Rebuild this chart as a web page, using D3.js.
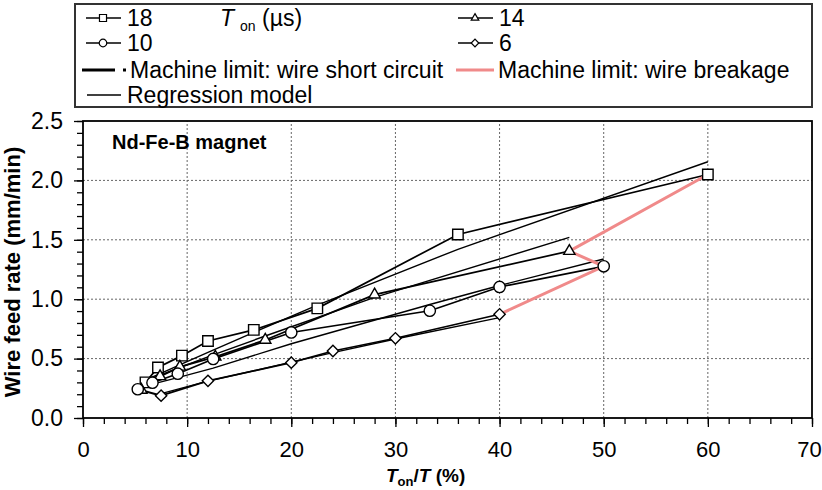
<!DOCTYPE html>
<html>
<head>
<meta charset="utf-8">
<script src="https://cdn.jsdelivr.net/npm/d3@7"></script>
<style>
  body { margin: 0; background: #fff; }
  svg { font-family: "Liberation Sans", Arial, sans-serif; }
</style>
</head>
<body>
<svg id="chart" width="822" height="490"></svg>
<script>
// duty ratio Ton/T (%) and wire feed rate (mm/min) per pulse-on time
const x18 = [6, 7.2, 9.5, 12, 16.4, 22.5, 36, 60]
const y18 = [0.30, 0.425, 0.525, 0.648, 0.742, 0.923, 1.545, 2.05]
const r18 = [0.32, 0.365, 0.455, 0.553, 0.72, 0.95, 1.42, 2.157]

const x14 = [5.6, 7.4, 9.3, 12.7, 17.5, 28, 46.7]
const y14 = [0.236, 0.35, 0.43, 0.515, 0.657, 1.038, 1.405]
const r14 = [0.30, 0.36, 0.425, 0.537, 0.69, 1.015, 1.52]

const x10 = [5.26, 6.67, 9.1, 12.5, 20, 33.3, 40, 50]
const y10 = [0.242, 0.297, 0.373, 0.497, 0.72, 0.903, 1.103, 1.277]
const r10 = [0.255, 0.285, 0.34, 0.42, 0.625, 0.955, 1.115, 1.338]

const x6 = [7.5, 12, 20, 24, 30, 40]
const y6 = [0.188, 0.313, 0.466, 0.564, 0.671, 0.873]
const r6 = [0.205, 0.31, 0.47, 0.55, 0.665, 0.845]

const xTicks = [0, 10, 20, 30, 40, 50, 60, 70]
const yTicks = [0, 0.5, 1.0, 1.5, 2.0, 2.5]

function drawChart() {
  const svg = d3.select('#chart')
  const x = d3.scaleLinear([0, 70], [83, 812])
  const y = d3.scaleLinear([0, 2.5], [418, 121])

  const series = [
    { name: '18', xs: x18, ys: y18, rs: r18, sym: d3.symbolSquare, size: 110, rot: 0 },
    { name: '14', xs: x14, ys: y14, rs: r14, sym: d3.symbolTriangle, size: 55, rot: 0 },
    { name: '10', xs: x10, ys: y10, rs: r10, sym: d3.symbolCircle, size: 100, rot: 0 },
    { name: '6', xs: x6, ys: y6, rs: r6, sym: d3.symbolSquare, size: 64, rot: 45 }
  ]

  // grid
  const grid = svg.append('g')
    .attr('stroke', '#666')
    .attr('stroke-width', 1)
    .attr('stroke-dasharray', '2,2')
  grid.selectAll('line.v')
    .data(xTicks.slice(1, -1))
    .join('line')
    .attr('x1', d => x(d)).attr('x2', d => x(d))
    .attr('y1', y(0)).attr('y2', y(2.5))
  grid.selectAll('line.h')
    .data(yTicks.slice(1, -1))
    .join('line')
    .attr('class', 'h')
    .attr('x1', x(0)).attr('x2', x(70))
    .attr('y1', d => y(d)).attr('y2', d => y(d))

  // axes
  const xAxis = svg.append('g').attr('transform', `translate(0,${y(0)})`)
  xAxis.call(d3.axisBottom(x).tickValues(d3.range(0, 71, 2)).tickSize(6).tickFormat(''))
  xAxis.call(g => g.select('.domain').remove())
  const xMaj = svg.append('g').attr('transform', `translate(0,${y(0)})`)
    .call(d3.axisBottom(x).tickValues(xTicks).tickSize(9).tickPadding(14))
  xMaj.select('.domain').remove()
  xMaj.selectAll('text').attr('font-size', 22).attr('fill', '#000')
    .attr('font-family', '"Liberation Sans", Arial, sans-serif')
    .attr('dx', d => d === 70 ? -3 : 0)

  const yAxis = svg.append('g').attr('transform', `translate(${x(0)},0)`)
  yAxis.call(d3.axisLeft(y).tickValues(d3.range(0, 26).map(d => d / 10)).tickSize(6).tickFormat(''))
  yAxis.call(g => g.select('.domain').remove())
  const yMaj = svg.append('g').attr('transform', `translate(${x(0)},0)`)
    .call(d3.axisLeft(y).tickValues(yTicks).tickSize(9).tickPadding(11).tickFormat(d3.format('.1f')))
  yMaj.select('.domain').remove()
  yMaj.selectAll('text').attr('font-size', 23).attr('fill', '#000')
    .attr('font-family', '"Liberation Sans", Arial, sans-serif')
  svg.selectAll('.tick line').attr('stroke', '#000').attr('stroke-width', 1.3)

  // frame
  svg.append('rect')
    .attr('x', x(0)).attr('y', y(2.5))
    .attr('width', x(70) - x(0)).attr('height', y(0) - y(2.5))
    .attr('fill', 'none').attr('stroke', '#000').attr('stroke-width', 1.8)

  const line = d3.line().x(d => x(d[0])).y(d => y(d[1]))

  // regression model
  svg.append('g').selectAll('path')
    .data(series)
    .join('path')
    .attr('d', s => line(s.xs.map((v, i) => [v, s.rs[i]])))
    .attr('fill', 'none').attr('stroke', '#000').attr('stroke-width', 1.4)

  // measured lines
  svg.append('g').selectAll('path')
    .data(series)
    .join('path')
    .attr('d', s => line(s.xs.map((v, i) => [v, s.ys[i]])))
    .attr('fill', 'none').attr('stroke', '#000').attr('stroke-width', 1.7)

  // machine limits
  const last = s => [s.xs[s.xs.length - 1], s.ys[s.ys.length - 1]]
  const first = s => [s.xs[0], s.ys[0]]
  svg.append('path')
    .attr('d', line(series.map(last)))
    .attr('fill', 'none').attr('stroke', '#f08a8a').attr('stroke-width', 3)
  svg.append('path')
    .attr('d', line(series.map(first)))
    .attr('fill', 'none').attr('stroke', '#000').attr('stroke-width', 2)
    .attr('stroke-dasharray', '33,8,3,8')

  // markers
  series.forEach(s => {
    svg.append('g').selectAll('path')
      .data(s.xs.map((v, i) => [v, s.ys[i]]))
      .join('path')
      .attr('transform', d => `translate(${x(d[0])},${y(d[1])}) rotate(${s.rot})`)
      .attr('d', d3.symbol(s.sym, s.size))
      .attr('fill', '#fff').attr('stroke', '#000').attr('stroke-width', 1.4)
  })

  svg.append('text')
    .attr('x', 112).attr('y', 149)
    .attr('font-size', 20).attr('font-weight', 'bold')
    .text('Nd-Fe-B magnet')

  // axis titles
  const xt = svg.append('text').attr('x', 386).attr('y', 482)
    .attr('font-size', 19).attr('font-weight', 'bold')
  xt.append('tspan').attr('font-style', 'italic').text('T')
  xt.append('tspan').attr('font-size', 13).attr('dy', 4).text('on')
  xt.append('tspan').attr('dy', -4).text('/')
  xt.append('tspan').attr('font-style', 'italic').text('T')
  xt.append('tspan').text('  (%)')

  svg.append('text')
    .attr('transform', 'translate(20,272) rotate(-90)')
    .attr('text-anchor', 'middle')
    .attr('font-size', 22).attr('font-weight', 'bold')
    .text('Wire feed rate (mm/min)')

  // legend
  const lg = svg.append('g')
  lg.append('rect')
    .attr('x', 75).attr('y', 4).attr('width', 737).attr('height', 103)
    .attr('fill', '#fff').attr('stroke', '#333').attr('stroke-width', 2)

  const legItems = [
    { s: series[0], lx: 86, ly: 18 },
    { s: series[2], lx: 86, ly: 43 },
    { s: series[1], lx: 458, ly: 18 },
    { s: series[3], lx: 458, ly: 43 }
  ]
  legItems.forEach(it => {
    lg.append('line')
      .attr('x1', it.lx).attr('x2', it.lx + 35)
      .attr('y1', it.ly).attr('y2', it.ly)
      .attr('stroke', '#000').attr('stroke-width', 1.3)
    lg.append('path')
      .attr('transform', `translate(${it.lx + 17},${it.ly}) rotate(${it.s.rot})`)
      .attr('d', d3.symbol(it.s.sym, it.s.size * 0.45))
      .attr('fill', '#fff').attr('stroke', '#000').attr('stroke-width', 1.2)
    lg.append('text')
      .attr('x', it.lx + 41).attr('y', it.ly + 8)
      .attr('font-size', 23).text(it.s.name)
  })

  const th = lg.append('text').attr('x', 220).attr('y', 26).attr('font-size', 23)
  th.append('tspan').attr('font-style', 'italic').text('T')
  th.append('tspan').attr('font-size', 14).attr('dx', 6).attr('dy', 5).text('on')
  th.append('tspan').attr('dy', -5).text(' (\u00b5s)')

  lg.append('line')
    .attr('x1', 82).attr('x2', 128).attr('y1', 70).attr('y2', 70)
    .attr('stroke', '#000').attr('stroke-width', 3)
    .attr('stroke-dasharray', '33,8,3,8')
  lg.append('text').attr('x', 130).attr('y', 78).attr('font-size', 23)
    .text('Machine limit: wire short circuit')

  lg.append('line')
    .attr('x1', 456).attr('x2', 494).attr('y1', 70).attr('y2', 70)
    .attr('stroke', '#f08a8a').attr('stroke-width', 3)
  lg.append('text').attr('x', 498).attr('y', 78).attr('font-size', 23)
    .text('Machine limit: wire breakage')

  lg.append('line')
    .attr('x1', 87).attr('x2', 121).attr('y1', 95).attr('y2', 95)
    .attr('stroke', '#000').attr('stroke-width', 1.3)
  lg.append('text').attr('x', 127).attr('y', 103).attr('font-size', 23)
    .text('Regression model')
}

document.addEventListener('DOMContentLoaded', drawChart, false)
</script>
</body>
</html>
